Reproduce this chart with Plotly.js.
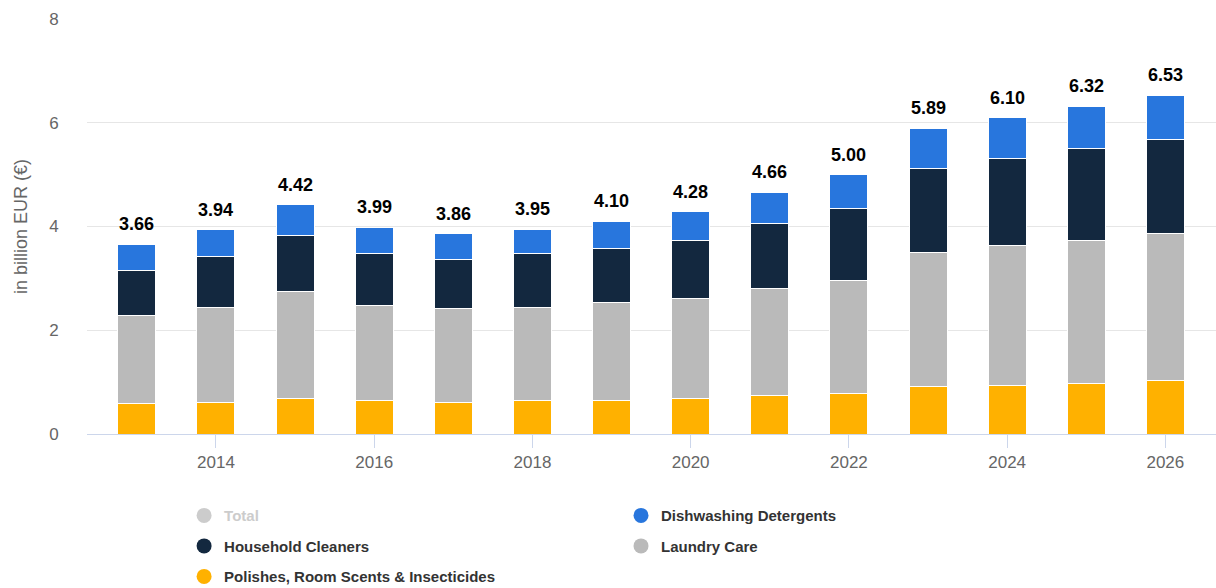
<!DOCTYPE html>
<html>
<head>
<meta charset="utf-8">
<script src="https://cdn.plot.ly/plotly-3.0.1.min.js"></script>
<style>
  html, body { margin: 0; padding: 0; background: #fff; }
  #chart { width: 1216px; height: 588px; }
</style>
</head>
<body>
<div id="chart"></div>
<script>
// data, in billion EUR
var years = [2013, 2014, 2015, 2016, 2017, 2018, 2019, 2020, 2021, 2022, 2023, 2024, 2025, 2026];
var polishes   = [0.58, 0.61, 0.68, 0.65, 0.61, 0.65, 0.65, 0.69, 0.75, 0.78, 0.91, 0.94, 0.98, 1.03];
var laundry    = [1.70, 1.83, 2.06, 1.82, 1.80, 1.79, 1.89, 1.92, 2.06, 2.17, 2.59, 2.69, 2.75, 2.84];
var household  = [0.88, 0.98, 1.08, 1.00, 0.95, 1.03, 1.03, 1.12, 1.25, 1.40, 1.62, 1.69, 1.78, 1.80];
var dishwash   = [0.50, 0.52, 0.60, 0.52, 0.50, 0.48, 0.53, 0.55, 0.60, 0.65, 0.77, 0.78, 0.81, 0.86];
var totals     = [3.66, 3.94, 4.42, 3.99, 3.86, 3.95, 4.10, 4.28, 4.66, 5.00, 5.89, 6.10, 6.32, 6.53];

var colPolish = '#ffb100';
var colLaundry = '#bababa';
var colHouse = '#13283f';
var colDish = '#2876dd';

var font = 'Arial, "Liberation Sans", sans-serif';

function barTrace(vals, name, color) {
  return {
    x: years,
    y: vals,
    type: 'bar',
    name: name,
    showlegend: false,
    marker: { color: color, line: { color: '#ffffff', width: 1 } },
    hoverinfo: 'x+y+name'
  };
}

// legend entries (circle symbols) - no data of their own
function legendTrace(name, color, legendId) {
  return {
    x: [null],
    y: [null],
    type: 'scatter',
    mode: 'markers',
    name: name,
    legend: legendId,
    legendgroup: name,
    marker: { color: color, size: 15, symbol: 'circle' }
  };
}

var traceData = [
  barTrace(polishes, 'Polishes, Room Scents & Insecticides', colPolish),
  barTrace(laundry, 'Laundry Care', colLaundry),
  barTrace(household, 'Household Cleaners', colHouse),
  barTrace(dishwash, 'Dishwashing Detergents', colDish),
  legendTrace('<span style="color:#cccccc">Total</span>', '#cccccc', 'legend'),
  legendTrace('Household Cleaners', colHouse, 'legend'),
  legendTrace('Polishes, Room Scents &amp; Insecticides', colPolish, 'legend'),
  legendTrace('Dishwashing Detergents', colDish, 'legend2'),
  legendTrace('Laundry Care', colLaundry, 'legend2')
];

// total labels above each stack
var totalLabels = years.map((yr, i) => ({
  x: yr,
  y: totals[i],
  xref: 'x',
  yref: 'y',
  text: totals[i].toFixed(2),
  showarrow: false,
  yanchor: 'bottom',
  yshift: 8,
  font: { family: font, size: 18, color: '#000000', weight: 'bold' }
}));

var legendBase = {
  orientation: 'v',
  xanchor: 'left',
  yanchor: 'top',
  y: -0.157,
  tracegroupgap: 8,
  itemsizing: 'trace',
  itemclick: false,
  itemdoubleclick: false,
  bgcolor: 'rgba(0,0,0,0)',
  font: { family: font, size: 15, color: '#333333', weight: 'bold' }
};

var layout = {
  width: 1216,
  height: 588,
  margin: { l: 87, r: 0, t: 19, b: 154, autoexpand: false },
  paper_bgcolor: '#ffffff',
  plot_bgcolor: '#ffffff',
  barmode: 'stack',
  bargap: 0.52,
  font: { family: font, color: '#666666' },
  xaxis: {
    range: [2012.37, 2026.64],
    tickmode: 'linear',
    tick0: 2014,
    dtick: 2,
    showgrid: false,
    zeroline: false,
    showline: true,
    linecolor: '#ccd6eb',
    linewidth: 1,
    ticks: 'outside',
    ticklen: 13,
    tickcolor: '#ccd6eb',
    tickfont: { family: font, size: 17, color: '#666666' },
    fixedrange: true
  },
  yaxis: {
    range: [0, 8],
    dtick: 2,
    showgrid: true,
    gridcolor: '#e6e6e6',
    zeroline: false,
    ticks: 'outside',
    ticklen: 24,
    tickcolor: 'rgba(0,0,0,0)',
    tickfont: { family: font, size: 17, color: '#666666' },
    title: { text: 'in billion EUR (€)', font: { family: font, size: 18, color: '#666666' }, standoff: 16 },
    fixedrange: true
  },
  annotations: totalLabels,
  legend: Object.assign({}, legendBase, { x: 0.086 }),
  legend2: Object.assign({}, legendBase, { x: 0.473 })
};

Plotly.newPlot('chart', traceData, layout, { displayModeBar: false, staticPlot: true });
</script>
</body>
</html>
